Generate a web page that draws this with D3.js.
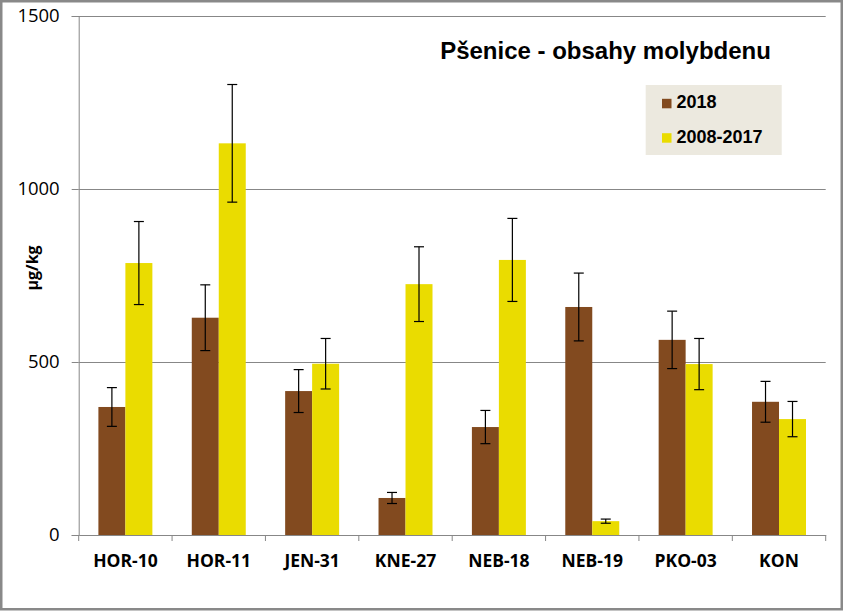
<!DOCTYPE html>
<html>
<head>
<meta charset="utf-8">
<script src="https://cdn.jsdelivr.net/npm/d3@7"></script>
<style>
  html, body { margin: 0; padding: 0; background: #fff; }
  svg { display: block; }
</style>
</head>
<body>
<svg id="chart" width="843" height="611"></svg>
<script>
const categories = ["HOR-10", "HOR-11", "JEN-31", "KNE-27", "NEB-18", "NEB-19", "PKO-03", "KON"];
const seriesNames = ["2018", "2008-2017"];
const values2018 = [370, 628, 416, 107, 312, 659, 564, 385];
const errors2018 = [56, 95, 62, 16, 48, 98, 83, 59];
const valuesHist = [786, 1132, 495, 725, 795, 40, 494, 335];
const errorsHist = [120, 170, 73, 108, 120, 6, 74, 51];
const yTicks = [0, 500, 1000, 1500];
const title = "Pšenice - obsahy molybdenu";
const yLabel = "µg/kg";
const colors = ["#824A1F", "#EADC00"];

const svg = d3.select("#chart");
const W = 843, H = 611;
const m = { left: 78.7, right: 825.7, top: 16, bottom: 535 };

// outer frame
svg.append("rect").attr("x", 1.25).attr("y", 1.25).attr("width", W - 2.5).attr("height", H - 3)
  .attr("fill", "#fff").attr("stroke", "#898989").attr("stroke-width", 2.5);

const x0 = d3.scaleBand().domain(categories).range([m.left, m.right]).paddingInner(0).paddingOuter(0);
const x1 = d3.scaleBand().domain(seriesNames).range([0, x0.bandwidth()]).paddingInner(0).paddingOuter(0.73);
const y = d3.scaleLinear().domain([0, 1500]).range([m.bottom, m.top]);

// gridlines
svg.append("g").selectAll("line").data(yTicks.filter(t => t > 0)).join("line")
  .attr("x1", m.left).attr("x2", m.right)
  .attr("y1", d => Math.round(y(d)) + 0.5).attr("y2", d => Math.round(y(d)) + 0.5)
  .attr("stroke", "#878787").attr("stroke-width", 1);

// y axis
const yAxis = svg.append("g").attr("transform", `translate(${m.left},0)`)
  .call(d3.axisLeft(y).tickValues(yTicks).tickSize(7).tickPadding(12).tickFormat(d3.format("d")));
yAxis.select(".domain").attr("stroke", "#878787");
yAxis.selectAll(".tick line").attr("stroke", "#878787");
yAxis.selectAll(".tick text").attr("font-family", "'Open Sans', sans-serif").attr("font-size", 18.5).attr("fill", "#000");

// bars
const data = categories.map((c, i) => ({
  cat: c,
  items: [
    { s: seriesNames[0], v: values2018[i], e: errors2018[i], c: colors[0] },
    { s: seriesNames[1], v: valuesHist[i], e: errorsHist[i], c: colors[1] }
  ]
}));

const groups = svg.append("g").selectAll("g").data(data).join("g")
  .attr("transform", d => `translate(${x0(d.cat)},0)`);
groups.selectAll("rect").data(d => d.items).join("rect")
  .attr("x", d => x1(d.s)).attr("width", x1.bandwidth())
  .attr("y", d => y(d.v)).attr("height", d => y(0) - y(d.v))
  .attr("fill", d => d.c);

// x axis
const xAxis = svg.append("g").attr("transform", `translate(0,${m.bottom})`)
  .call(d3.axisBottom(x0).tickSize(0).tickPadding(20));
xAxis.select(".domain").attr("stroke", "#878787");
xAxis.selectAll(".tick text").attr("font-family", "'Open Sans', sans-serif").attr("font-weight", "bold")
  .attr("font-size", 17.5).attr("fill", "#000");
// category separator ticks
svg.append("g").selectAll("line").data(d3.range(categories.length + 1)).join("line")
  .attr("x1", i => (i < categories.length ? x0(categories[i]) : m.right))
  .attr("x2", i => (i < categories.length ? x0(categories[i]) : m.right))
  .attr("y1", m.bottom).attr("y2", m.bottom + 6)
  .attr("stroke", "#878787");

// error bars
const eb = groups.selectAll("g.err").data(d => d.items).join("g").attr("class", "err");
eb.append("line")
  .attr("x1", d => x1(d.s) + x1.bandwidth() / 2).attr("x2", d => x1(d.s) + x1.bandwidth() / 2)
  .attr("y1", d => y(d.v + d.e)).attr("y2", d => y(d.v - d.e))
  .attr("stroke", "#000").attr("stroke-width", 1.2);
eb.selectAll("line.cap").data(d => [
  { x: x1(d.s) + x1.bandwidth() / 2, yv: d.v + d.e },
  { x: x1(d.s) + x1.bandwidth() / 2, yv: d.v - d.e }
]).join("line").attr("class", "cap")
  .attr("x1", d => d.x - 5).attr("x2", d => d.x + 5)
  .attr("y1", d => y(d.yv)).attr("y2", d => y(d.yv))
  .attr("stroke", "#000").attr("stroke-width", 1.2);

// y label
svg.append("text")
  .attr("transform", "translate(38,268) rotate(-90)")
  .attr("text-anchor", "middle")
  .attr("font-family", "'Open Sans', sans-serif").attr("font-weight", "bold").attr("font-size", 16)
  .text(yLabel);

// title
svg.append("text").attr("x", 605.5).attr("y", 59.3).attr("text-anchor", "middle")
  .attr("font-family", "'Liberation Sans', Arial, sans-serif").attr("font-weight", "bold").attr("font-size", 24)
  .text(title);

// legend
const lg = svg.append("g");
lg.append("rect").attr("x", 645.7).attr("y", 85).attr("width", 136).attr("height", 70).attr("fill", "#ECE9DF");
const li = lg.selectAll("g").data(seriesNames).join("g")
  .attr("transform", (d, i) => `translate(662,${108.3 + i * 34.4})`);
li.append("rect").attr("x", 0).attr("y", -9.5).attr("width", 9.5).attr("height", 9.5)
  .attr("fill", (d, i) => colors[i]);
li.append("text").attr("x", 14.5).attr("y", 0)
  .attr("font-family", "'Liberation Sans', Arial, sans-serif").attr("font-weight", "bold").attr("font-size", 18)
  .text(d => d);
</script>
</body>
</html>
